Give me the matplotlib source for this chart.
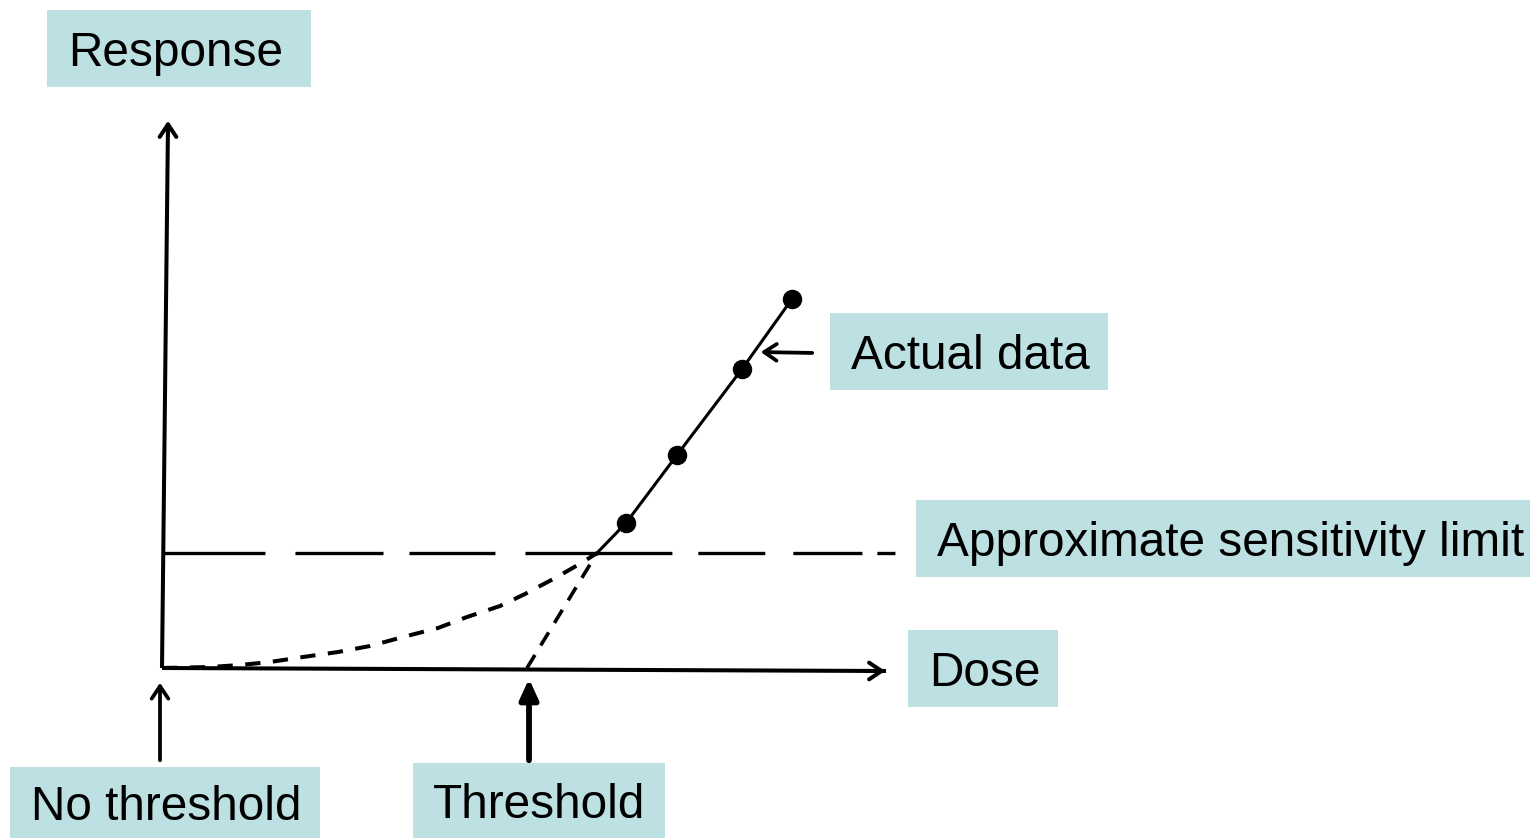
import matplotlib
matplotlib.use("Agg")
import matplotlib.pyplot as plt
from matplotlib.patches import Rectangle

plt.rcParams['font.family'] = ['Liberation Sans', 'DejaVu Sans']
plt.rcParams['lines.scale_dashes'] = False

# ---- data (dose / response in arbitrary units) ----
dose_pts = [4.64, 5.15, 5.80, 6.30]
resp_pts = [1.45, 2.13, 2.99, 3.69]
threshold_dose = 3.65
sensitivity_limit = 1.15
knee_dose = 4.35
curve_dose = [0.0, 0.48, 0.78, 1.08, 1.41, 1.76, 2.08, 2.41, 2.76, 3.05, 3.38, 3.63, 3.95, 4.21, 4.35]
curve_resp = [0.0, 0.01, 0.03, 0.06, 0.11, 0.16, 0.22, 0.31, 0.40, 0.51, 0.62, 0.74, 0.91, 1.06, 1.15]
labels = ["Response", "Actual data", "Approximate sensitivity limit", "Dose", "No threshold", "Threshold"]

W, H = 1531, 838
fig = plt.figure(figsize=(W / 100, H / 100), dpi=100)
ax = fig.add_axes([0, 0, 1, 1])
ax.set_xlim(-1.62, (W - 162) / 100)
ax.set_ylim((668 - H) / 100, 6.68)
ax.axis('off')

def P(px, py):
    return ((px - 162) / 100, (668 - py) / 100)

ink = 'black'
# axes lines
ax.plot([0, 0.06], [0, 5.45], color=ink, lw=2.9, solid_capstyle='butt')
ax.plot([0, 7.24], [0, -0.03], color=ink, lw=2.9, solid_capstyle='butt')
# axis arrowheads
ax.annotate('', xy=(0.06, 5.50), xytext=(0.06, 5.30),
            arrowprops=dict(arrowstyle='->,head_length=0.9,head_width=0.6', lw=2.9, color=ink))
ax.annotate('', xy=(7.26, -0.03), xytext=(7.0, -0.03),
            arrowprops=dict(arrowstyle='->,head_length=0.9,head_width=0.6', lw=2.9, color=ink))

# sensitivity limit (hand-drawn irregular dashes)
ax.plot([0.01, 7.33], [sensitivity_limit, sensitivity_limit], color=ink, lw=2.4,
        linestyle=(0, (73.4, 21.6, 63.4, 18.7, 61.9, 21.6, 105.8, 18.7,
                       48.2, 20.2, 49.7, 10.8, 13.0, 50.0)),
        dash_capstyle='butt')

# no-threshold curve
ax.plot(curve_dose, curve_resp, color=ink, lw=2.9, dashes=(11, 9))

# threshold extrapolation
ax.plot([threshold_dose, knee_dose], [0, sensitivity_limit], color=ink, lw=2.6, dashes=(11, 8))

# actual data line + points
ax.plot([knee_dose] + dose_pts, [sensitivity_limit] + resp_pts, color=ink, lw=2.2)
ax.plot(dose_pts, resp_pts, 'o', color=ink, markersize=13)

# pointer arrows
ax.annotate('', xy=P(160, 680), xytext=P(160, 763),
            arrowprops=dict(arrowstyle='->,head_length=0.9,head_width=0.6', lw=2.7, color=ink))
ax.annotate('', xy=P(529, 676), xytext=P(529, 763),
            arrowprops=dict(arrowstyle='-|>,head_length=1.2,head_width=0.55', lw=4.2, color=ink))
ax.annotate('', xy=P(758, 352), xytext=P(815, 353),
            arrowprops=dict(arrowstyle='->,head_length=0.9,head_width=0.6', lw=2.7, color=ink))

# label boxes
box_color = '#BDE0E3'
boxes = [
    (47, 10, 311, 87, 68),
    (830, 313, 1108, 390, 851),
    (916, 500, 1530, 577, 937),
    (908, 630, 1058, 707, 929),
    (10, 767, 320, 838, 31),
    (413, 763, 665, 838, 433),
]
for (x0, y0, x1, y1, tx), lab in zip(boxes, labels):
    fig.patches.append(Rectangle((x0 / W, 1 - y1 / H), (x1 - x0) / W, (y1 - y0) / H,
                                 transform=fig.transFigure, facecolor=box_color,
                                 edgecolor='none', zorder=0))
    fig.text(tx / W, 1 - ((y0 + y1) / 2) / H, lab, fontsize=34.4, color='black',
             ha='left', va='center_baseline')

fig.savefig('out.png', dpi=100)
